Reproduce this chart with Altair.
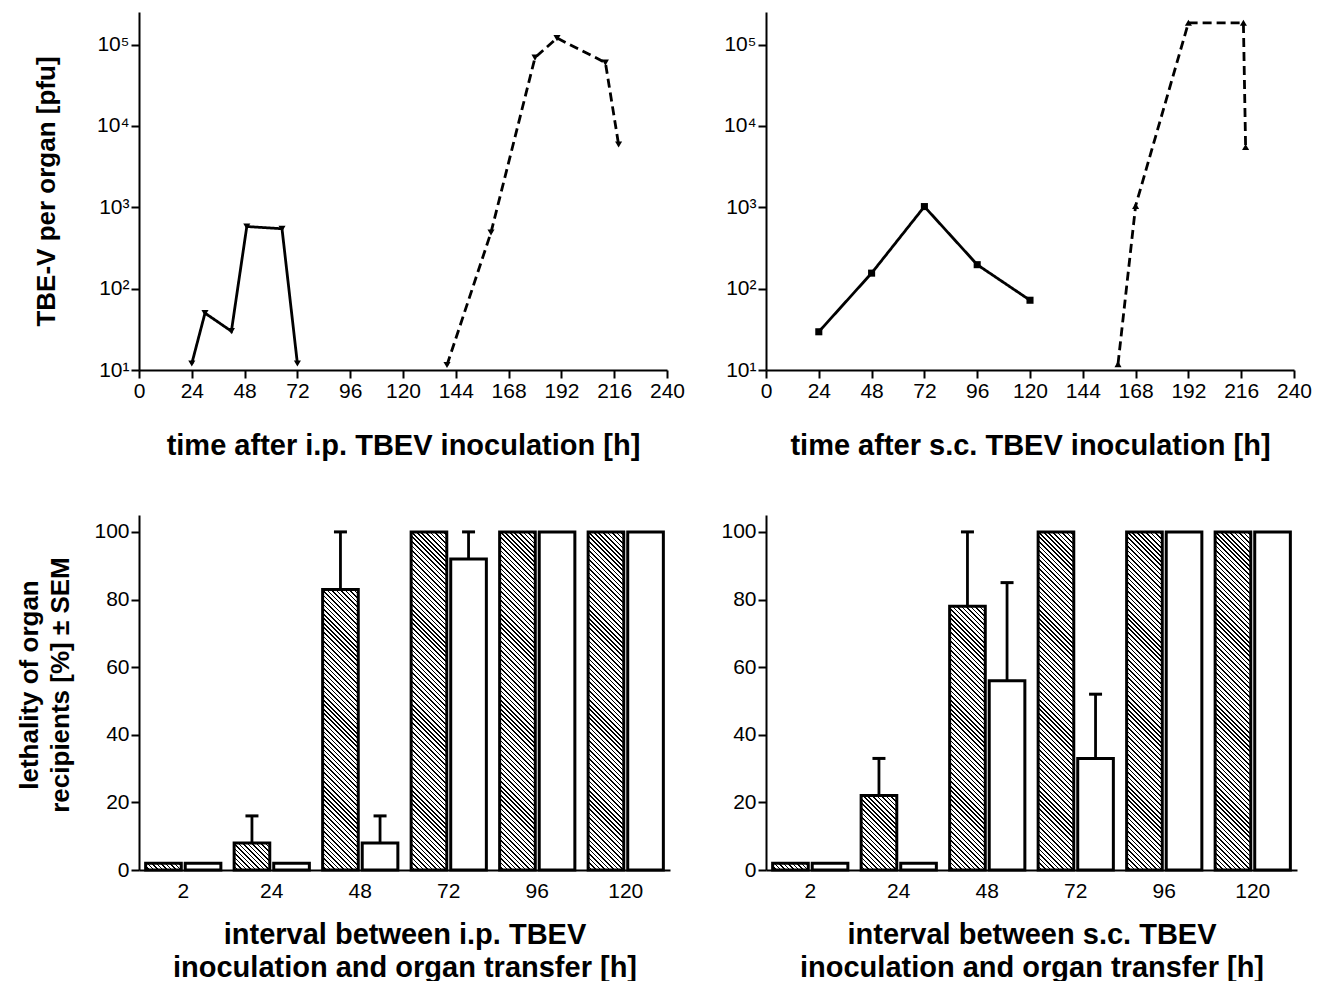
import math
import altair as alt

FONT = "Liberation Sans"

# ---------------- top panels: virus titre per organ ----------------
hour_ticks = [0, 24, 48, 72, 96, 120, 144, 168, 192, 216, 240]
pfu_ticks = [10, 100, 1000, 10000, 100000]

ip_early_t = [24, 30, 42, 49, 65, 72]
ip_early_v = [12, 50, 30, 580, 545, 12]
ip_late_t = [140, 160, 180, 190, 212, 218]
ip_late_v = [11.5, 490, 69000, 120000, 60000, 5900]

sc_early_t = [24, 48, 72, 96, 120]
sc_early_v = [29.5, 155, 1020, 197, 72]
sc_late_t = [160, 168, 192, 217, 218]
sc_late_v = [11.8, 1040, 185000, 185000, 5500]

# ---------------- bottom panels: lethality of recipients ----------------
intervals = ["2", "24", "48", "72", "96", "120"]
ip_hatched = [2, 8, 83, 100, 100, 100]
ip_hatched_err = [None, 16, 100, None, None, None]
ip_open = [2, 2, 8, 92, 100, 100]
ip_open_err = [None, None, 16, 100, None, None]

sc_hatched = [2, 22, 78, 100, 100, 100]
sc_hatched_err = [None, 33, 100, None, None, None]
sc_open = [2, 2, 56, 33, 100, 100]
sc_open_err = [None, None, 85, 52, None, None]

# ---------------- layout ----------------
TOP_W, TOP_H = 528, 358
BOT_W, BOT_H = 531, 355
Y_MAX = 105
LOG_TOP = 10 ** 5.4
PAD_IN, PAD_OUT, OFF_PAD = 0.15, 0.075, 0.1
XTITLE_SIZE = 29
YTITLE_SIZE = 26

LABEL_EXPR = ("datum.value == 10 ? '10¹' : datum.value == 100 ? '10²' : "
              "datum.value == 1000 ? '10³' : datum.value == 10000 ? '10⁴' : '10⁵'")


def top_records(t1, v1, t2, v2):
    rows = [{"t": t, "v": v, "phase": "early"} for t, v in zip(t1, v1)]
    rows += [{"t": t, "v": v, "phase": "late"} for t, v in zip(t2, v2)]
    return rows


def top_chart(rows, shapes, xtitle, ytitle):
    data = alt.Data(values=rows)
    x = alt.X("t:Q", scale=alt.Scale(domain=[0, 240], nice=False),
              axis=alt.Axis(values=hour_ticks, title=xtitle, titlePadding=30, labelPadding=2,
                            labelOverlap=False, labelFlush=False, titleFontSize=XTITLE_SIZE))
    yaxis = dict(values=pfu_ticks, labelExpr=LABEL_EXPR, minExtent=50, maxExtent=50)
    if ytitle:
        y = alt.Y("v:Q", scale=alt.Scale(type="log", domain=[10, LOG_TOP], nice=False),
                  axis=alt.Axis(title=ytitle, titlePadding=30, titleFontSize=YTITLE_SIZE, **yaxis))
    else:
        y = alt.Y("v:Q", scale=alt.Scale(type="log", domain=[10, LOG_TOP], nice=False),
                  axis=alt.Axis(title=None, **yaxis))
    dash = alt.StrokeDash("phase:N", scale=alt.Scale(domain=["early", "late"], range=[[1, 0], [9, 5]]),
                          legend=None)
    shape = alt.Shape("phase:N", scale=alt.Scale(domain=["early", "late"], range=shapes), legend=None)
    line = alt.Chart(data).mark_line(color="black", strokeWidth=2.8).encode(x=x, y=y, strokeDash=dash)
    pts = alt.Chart(data).mark_point(filled=True, color="black", size=50, opacity=1).encode(
        x=x, y=y, shape=shape)
    return alt.layer(line, pts).properties(width=TOP_W, height=TOP_H)


def hatch(w, h, period=3.2, ink=0.36):
    w = max(w, 1.0)
    h = max(h, 1.0)
    r = w / h
    b = (r + 1) / (r * r + 1)
    length = (w + h) / math.sqrt(2)
    p = period / length
    stops = []
    k = 0
    while k * p < 1:
        a = k * p
        m = min(a + p * (1 - ink), 1)
        c = min((k + 1) * p, 1)
        stops += [{"offset": round(a, 5), "color": "white"},
                  {"offset": round(m, 5), "color": "white"},
                  {"offset": round(m, 5), "color": "black"},
                  {"offset": round(c, 5), "color": "black"}]
        k += 1
    return {"gradient": "linear", "x1": 0, "y1": 1, "x2": r * b, "y2": 1 - b, "stops": stops}


def bottom_records(hatched, hatched_err, opened, opened_err):
    step = BOT_W / (len(intervals) - PAD_IN + 2 * PAD_OUT)
    band = step * (1 - PAD_IN)
    bar_w = band / (2 - OFF_PAD) * (1 - OFF_PAD)
    rows = []
    for g, v, e in zip(intervals, hatched, hatched_err):
        rows.append({"grp": g, "kind": "a", "val": v, "err": e,
                     "fill": hatch(bar_w, v / Y_MAX * BOT_H)})
    for g, v, e in zip(intervals, opened, opened_err):
        rows.append({"grp": g, "kind": "b", "val": v, "err": e, "fill": "white"})
    return rows


def bottom_chart(rows, xtitle, ytitle):
    data = alt.Data(values=rows)
    x = alt.X("grp:N", sort=intervals,
              scale=alt.Scale(paddingInner=PAD_IN, paddingOuter=PAD_OUT),
              axis=alt.Axis(title=xtitle, labelAngle=0, ticks=False, labelPadding=10,
                            titlePadding=19, titleLineHeight=33, titleFontSize=XTITLE_SIZE))
    xo = alt.XOffset("kind:N", scale=alt.Scale(paddingInner=OFF_PAD, paddingOuter=0))
    yaxis = dict(values=[0, 20, 40, 60, 80, 100], minExtent=50, maxExtent=50)
    if ytitle:
        yax = alt.Axis(title=ytitle, titlePadding=16, titleLineHeight=31,
                       titleFontSize=YTITLE_SIZE, titleY=BOT_H / 2 - 8, **yaxis)
    else:
        yax = alt.Axis(title=None, **yaxis)
    y = alt.Y("val:Q", scale=alt.Scale(domain=[0, Y_MAX], nice=False), axis=yax)
    bars = alt.Chart(data).mark_bar(stroke="black", strokeWidth=3, aria=False).encode(
        x=x, xOffset=xo, y=y, fill=alt.Fill("fill:N", scale=None))
    whisk = alt.Chart(data).transform_filter("datum.err != null").mark_rule(
        color="black", strokeWidth=2.8).encode(x=x, xOffset=xo, y="val:Q", y2="err:Q")
    caps = alt.Chart(data).transform_filter("datum.err != null").mark_tick(
        color="black", thickness=3, size=13, orient="horizontal", opacity=1).encode(
        x=x, xOffset=xo, y="err:Q")
    return alt.layer(bars, whisk, caps).properties(width=BOT_W, height=BOT_H)


tl = top_chart(top_records(ip_early_t, ip_early_v, ip_late_t, ip_late_v),
               ["triangle-down", "triangle-down"],
               "time after i.p. TBEV inoculation [h]", "TBE-V per organ [pfu]")
tr = top_chart(top_records(sc_early_t, sc_early_v, sc_late_t, sc_late_v),
               ["square", "triangle-up"],
               "time after s.c. TBEV inoculation [h]", None)
bl = bottom_chart(bottom_records(ip_hatched, ip_hatched_err, ip_open, ip_open_err),
                  ["interval between i.p. TBEV", "inoculation and organ transfer [h]"],
                  ["lethality of organ", "recipients [%] ± SEM"])
br = bottom_chart(bottom_records(sc_hatched, sc_hatched_err, sc_open, sc_open_err),
                  ["interval between s.c. TBEV", "inoculation and organ transfer [h]"],
                  None)

chart = alt.concat(tl, tr, bl, br, columns=2, spacing={"row": 55, "column": 31}).properties(
    padding={"left": 8, "top": 4, "right": 0, "bottom": 0}, background="white"
).resolve_scale(x="independent", y="independent", shape="independent",
                strokeDash="independent").configure_axis(
    domainColor="black", domainWidth=2, tickColor="black", tickWidth=2, tickSize=8,
    labelFont=FONT, labelFontSize=21, labelColor="black",
    titleFont=FONT, titleFontSize=26, titleFontWeight="bold", titleColor="black",
    grid=False
).configure_view(stroke=None)

chart.save("out.html", embed_options={"renderer": "svg", "actions": False})
